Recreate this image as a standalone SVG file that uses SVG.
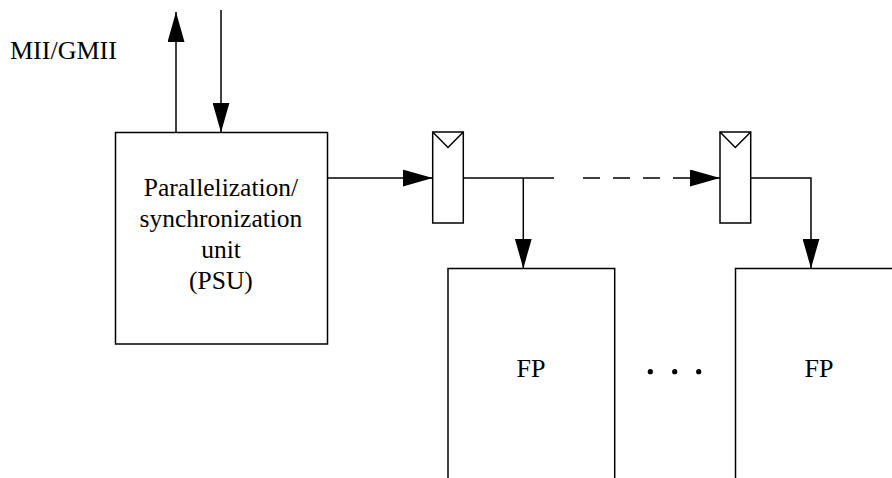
<svg xmlns="http://www.w3.org/2000/svg" width="892" height="478" viewBox="0 0 892 478">
<style>
.box{fill:none;stroke:#000;stroke-width:1.5}
.ln{fill:none;stroke:#000;stroke-width:1.5}
text{font-family:"Liberation Serif","Times New Roman",serif;fill:#000}
</style>
<defs>
<marker id="ah" viewBox="0 0 30 17" refX="30" refY="8.5" markerWidth="30" markerHeight="17" markerUnits="userSpaceOnUse" orient="auto">
<path d="M0,0 L30,8.5 L0,17 Z" fill="#000"/>
</marker>
</defs>
<rect width="892" height="478" fill="#fff"/>
<g id="mii-label"><text x="10" y="59" font-size="26">MII/GMII</text></g>
<g id="psu">
<rect class="box" x="115.5" y="132.5" width="212" height="211.5"/>
<text x="143.8" y="196" font-size="25.5">Parallelization/</text>
<text x="139.5" y="227" font-size="25.5">synchronization</text>
<text x="201.2" y="258" font-size="25.5">unit</text>
<text x="189.1" y="289" font-size="25.5">(PSU)</text>
</g>
<g id="reg1">
<rect class="box" x="432.7" y="132" width="30.6" height="91"/>
<polyline class="ln" points="432.7,132 448,147.5 463.3,132"/>
</g>
<g id="reg2">
<rect class="box" x="720" y="132" width="30.7" height="91"/>
<polyline class="ln" points="720,132 735.3,147.5 750.7,132"/>
</g>
<g id="fp1">
<path class="box" d="M448,480 V268.5 H614.7 V480"/>
<text x="516.5" y="377" font-size="26">FP</text>
</g>
<g id="fp2">
<path class="box" d="M735.5,480 V268.5 H894"/>
<text x="804.5" y="377" font-size="26">FP</text>
</g>
<g id="ellipsis">
<circle cx="650.3" cy="371.7" r="2.6"/>
<circle cx="674.7" cy="371.7" r="2.6"/>
<circle cx="698.7" cy="371.7" r="2.6"/>
</g>
<g id="connectors">
<line class="ln" x1="176" y1="132.5" x2="176" y2="12" marker-end="url(#ah)"/>
<line class="ln" x1="221" y1="10" x2="221" y2="132.5" marker-end="url(#ah)"/>
<line class="ln" x1="327.5" y1="178" x2="432.7" y2="178" marker-end="url(#ah)"/>
<line class="ln" x1="463.3" y1="178" x2="554" y2="178"/>
<line class="ln" x1="523.3" y1="178" x2="523.3" y2="268.5" marker-end="url(#ah)"/>
<line class="ln" x1="583" y1="178" x2="720" y2="178" stroke-dasharray="17 13" marker-end="url(#ah)"/>
<polyline class="ln" points="750.7,178 811,178 811,268.5" marker-end="url(#ah)"/>
</g>
</svg>
